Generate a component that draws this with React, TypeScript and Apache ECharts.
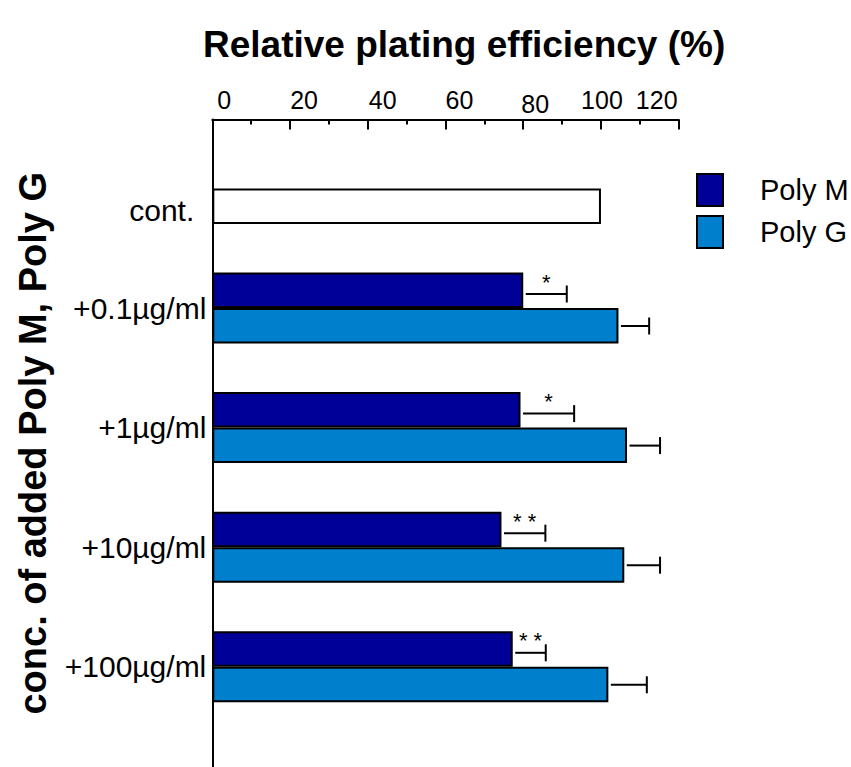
import React, { useEffect, useRef } from 'react';
import * as echarts from 'echarts';

const categories = ['cont.', '+0.1µg/ml', '+1µg/ml', '+10µg/ml', '+100µg/ml'];
const controlValues = [100, null, null, null, null];
const polyMValues = [null, 80.0, 79.3, 74.4, 77.3];
const polyMErrors = [null, 11.2, 13.8, 11.3, 8.5];
const polyMSignificance = ['', '*', '*', '* *', '* *'];
const polyGValues = [null, 104.5, 106.7, 106.0, 101.9];
const polyGErrors = [null, 7.9, 8.5, 9.2, 9.9];
const xTickLabels = [0, 20, 40, 60, 80, 100, 120];

// label placement quirks of the original figure (style only)
const tickShiftX = [12, 14, 15, 14, 12, 1, -22];
const tickDropY = [0, 0, 0, 0, 4, 0, 0];

const FONT = '"Liberation Sans", Arial, Helvetica, sans-serif';

function errData(values: (number | null)[], errors: (number | null)[]) {
  const out: number[][] = [];
  values.forEach((v, i) => {
    if (v != null && errors[i] != null) out.push([v, i, errors[i] as number, i]);
  });
  return out;
}

function makeErrRender(dy: number, stars: string[] | null) {
  return (params: any, api: any) => {
    const mean = api.value(0);
    const cat = api.value(1);
    const err = api.value(2);
    const idx = api.value(3);
    const p0 = api.coord([mean, cat]);
    const p1 = api.coord([mean + err, cat]);
    const y = p0[1] + dy;
    const x0 = p0[0] + 2.5;
    const x1 = p1[0];
    const children: any[] = [
      { type: 'line', shape: { x1: x0, y1: y, x2: x1, y2: y }, style: { stroke: '#000', lineWidth: 2 } },
      { type: 'line', shape: { x1: x1, y1: y - 8.5, x2: x1, y2: y + 8.5 }, style: { stroke: '#000', lineWidth: 2 } },
    ];
    if (stars && stars[idx]) {
      children.push({
        type: 'text',
        x: (x0 + x1) / 2,
        y: y - 12,
        style: { text: stars[idx], fontSize: 22, fill: '#000', align: 'center', verticalAlign: 'middle', fontFamily: FONT },
      });
    }
    return { type: 'group', children };
  };
}

const tickRich: Record<string, any> = {};
xTickLabels.forEach((v, i) => {
  const s = tickShiftX[i];
  tickRich['t' + i] = {
    fontSize: 25,
    color: '#000',
    fontFamily: FONT,
    padding: [0, s < 0 ? -2 * s : 0, 4 - tickDropY[i], s > 0 ? 2 * s : 0],
  };
});

const option: any = {
  animation: false,
  backgroundColor: '#fff',
  textStyle: { fontFamily: FONT },
  title: {
    text: 'Relative plating efficiency (%)',
    left: 203,
    top: 26,
    padding: 0,
    textStyle: { fontSize: 37, fontWeight: 'bold', color: '#000', fontFamily: FONT },
  },
  legend: {
    data: ['Poly M', 'Poly G'],
    orient: 'vertical',
    left: 696,
    top: 173,
    padding: 0,
    itemWidth: 26,
    itemHeight: 32,
    itemGap: 8,
    icon: 'rect',
    itemStyle: { borderColor: '#000', borderWidth: 2 },
    textStyle: { fontSize: 29, color: '#000', fontFamily: FONT, padding: [0, 0, 0, 32] },
  },
  grid: [
    { left: 212.3, right: 172.3, top: 128.6, height: 598 },
    { left: 212.3, right: 172.3, top: 119.5, bottom: 0 },
  ],
  xAxis: [
    { type: 'value', gridIndex: 0, min: 0, max: 120, show: false },
    {
      type: 'value',
      gridIndex: 1,
      position: 'top',
      min: 0,
      max: 120,
      interval: 20,
      axisLine: { show: true, onZero: false, lineStyle: { color: '#000', width: 2 } },
      axisTick: { show: true, inside: true, length: 10, lineStyle: { color: '#000', width: 2 } },
      minorTick: { show: true, splitNumber: 2, length: 5, lineStyle: { color: '#000', width: 2 } },
      splitLine: { show: false },
      minorSplitLine: { show: false },
      axisLabel: {
        margin: 3,
        formatter: (v: number) => {
          const i = xTickLabels.indexOf(v);
          return i >= 0 ? `{t${i}|${v}}` : '';
        },
        rich: tickRich,
      },
    },
  ],
  yAxis: [
    {
      type: 'category',
      gridIndex: 0,
      data: categories,
      inverse: true,
      axisLine: { show: false },
      axisTick: { show: false },
      splitLine: { show: false },
      axisLabel: {
        fontSize: 30,
        color: '#000',
        margin: 6,
        fontFamily: FONT,
        formatter: (v: string) => (v === categories[0] ? `{c|${v}}` : v),
        rich: { c: { fontSize: 30, color: '#000', fontFamily: FONT, padding: [44, 12, 0, 0] } },
      },
    },
    {
      type: 'value',
      gridIndex: 1,
      min: 0,
      max: 1,
      axisLine: { show: true, onZero: false, lineStyle: { color: '#000', width: 2 } },
      axisTick: { show: false },
      axisLabel: { show: false },
      splitLine: { show: false },
      name: 'conc. of added Poly M, Poly G',
      nameLocation: 'middle',
      nameRotate: 90,
      nameGap: 160,
      nameTextStyle: { fontSize: 38, fontWeight: 'bold', color: '#000', fontFamily: FONT },
    },
  ],
  series: [
    {
      name: 'Poly M',
      type: 'bar',
      xAxisIndex: 0,
      yAxisIndex: 0,
      data: polyMValues,
      barWidth: 35.5,
      barGap: '0%',
      itemStyle: { color: '#000099', borderColor: '#000', borderWidth: 2 },
    },
    {
      name: 'Poly G',
      type: 'bar',
      xAxisIndex: 0,
      yAxisIndex: 0,
      stack: 'g',
      data: polyGValues,
      barWidth: 35.5,
      barGap: '0%',
      itemStyle: { color: '#0080cc', borderColor: '#000', borderWidth: 2 },
    },
    {
      name: 'cont.',
      type: 'bar',
      xAxisIndex: 0,
      yAxisIndex: 0,
      stack: 'g',
      data: controlValues,
      barWidth: 35.5,
      barGap: '0%',
      itemStyle: { color: '#ffffff', borderColor: '#000', borderWidth: 2 },
    },
    {
      name: 'Poly M error',
      type: 'custom',
      xAxisIndex: 0,
      yAxisIndex: 0,
      encode: { x: 0, y: 1 },
      data: errData(polyMValues, polyMErrors),
      renderItem: makeErrRender(-14, polyMSignificance),
      clip: false,
      z: 5,
    },
    {
      name: 'Poly G error',
      type: 'custom',
      xAxisIndex: 0,
      yAxisIndex: 0,
      encode: { x: 0, y: 1 },
      data: errData(polyGValues, polyGErrors),
      renderItem: makeErrRender(18, null),
      clip: false,
      z: 5,
    },
  ],
};

export default function App() {
  const ref = useRef<HTMLDivElement>(null);
  useEffect(() => {
    document.body.style.margin = '0';
    const chart = echarts.init(ref.current!, null, { renderer: 'svg' });
    chart.setOption(option);
    return () => chart.dispose();
  }, []);
  return <div ref={ref} style={{ width: 851, height: 767 }} />;
}
